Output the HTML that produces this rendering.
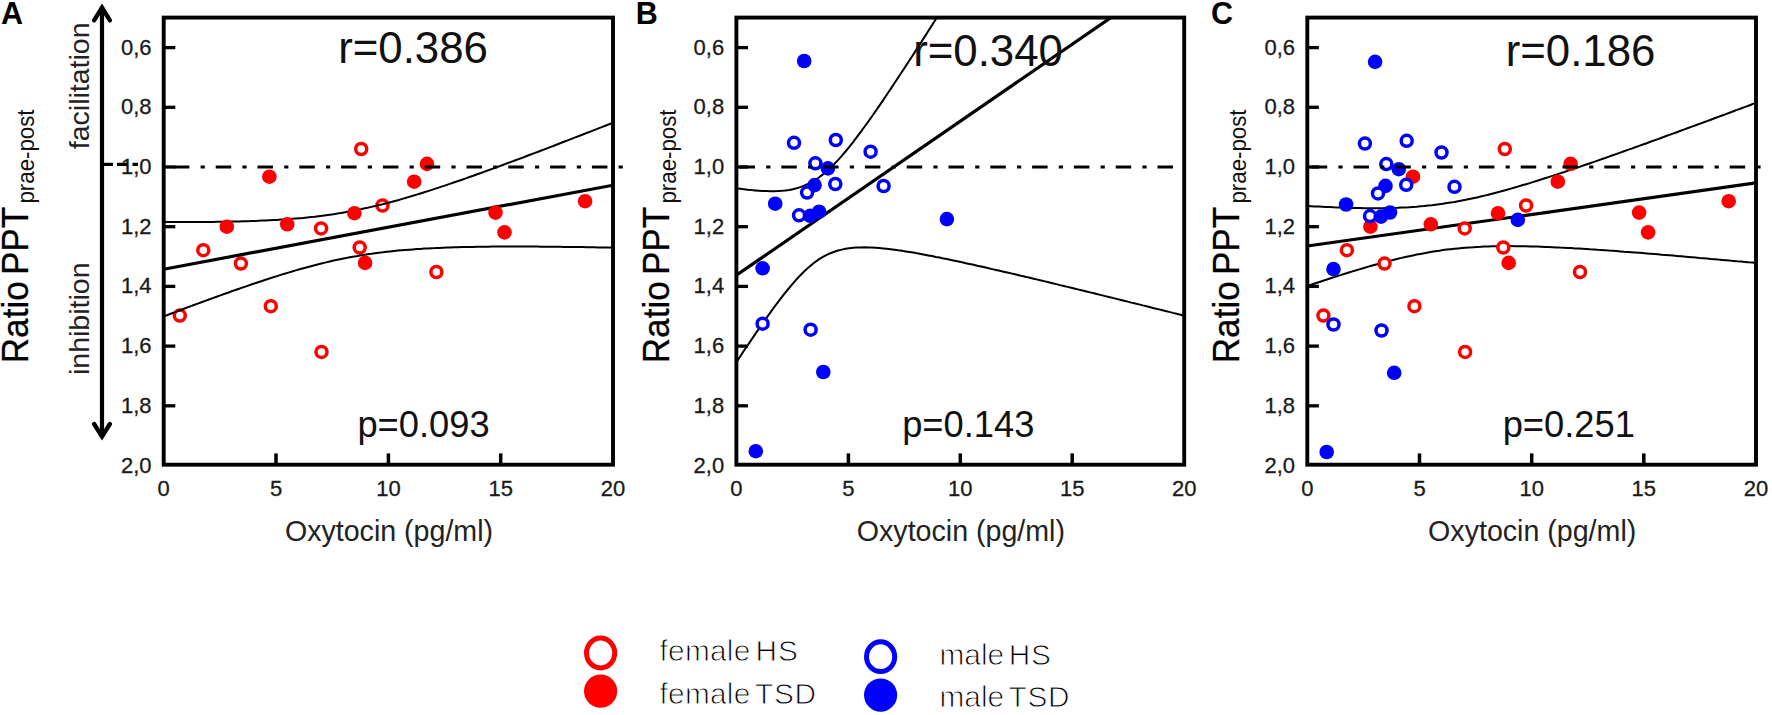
<!DOCTYPE html>
<html><head><meta charset="utf-8"><title>Figure</title>
<style>
html,body{margin:0;padding:0;background:#fff;}
svg{display:block;}
text{font-family:"Liberation Sans",Arial,sans-serif;fill:#1a1a1a;}
.tk{font-size:22px;fill:#1a1a1a;stroke:#1a1a1a;stroke-width:0.3px;}
.xl{font-size:28.6px;fill:#222;}
.yl{font-size:37px;fill:#000;stroke:#000;stroke-width:0.3px;}
.ys{font-size:24.3px;fill:#111;}
.pl{font-size:30.5px;font-weight:bold;fill:#000;}
.rt{font-size:43.8px;fill:#111;}
.pt{font-size:36.3px;fill:#111;}
.fi{font-size:28.5px;fill:#222;}
.lg{font-size:29.8px;fill:#000;stroke:#fff;stroke-width:0.9px;white-space:pre;}
</style></head><body>
<svg width="1772" height="715" viewBox="0 0 1772 715">
<rect width="1772" height="715" fill="#fff"/>
<clipPath id="clip0"><rect x="163.7" y="17.6" width="449.3" height="447.1"/></clipPath>
<g>
<circle cx="361.2" cy="149.0" r="5.5" fill="#fff" stroke="#ff0000" stroke-width="3.5"/>
<circle cx="321.1" cy="228.4" r="5.5" fill="#fff" stroke="#ff0000" stroke-width="3.5"/>
<circle cx="382.5" cy="205.5" r="5.5" fill="#fff" stroke="#ff0000" stroke-width="3.5"/>
<circle cx="203.3" cy="250.2" r="5.5" fill="#fff" stroke="#ff0000" stroke-width="3.5"/>
<circle cx="240.9" cy="263.6" r="5.5" fill="#fff" stroke="#ff0000" stroke-width="3.5"/>
<circle cx="359.7" cy="247.5" r="5.5" fill="#fff" stroke="#ff0000" stroke-width="3.5"/>
<circle cx="270.8" cy="306.2" r="5.5" fill="#fff" stroke="#ff0000" stroke-width="3.5"/>
<circle cx="179.8" cy="315.6" r="5.5" fill="#fff" stroke="#ff0000" stroke-width="3.5"/>
<circle cx="321.5" cy="351.9" r="5.5" fill="#fff" stroke="#ff0000" stroke-width="3.5"/>
<circle cx="436.4" cy="272.0" r="5.5" fill="#fff" stroke="#ff0000" stroke-width="3.5"/>
</g>
<g clip-path="url(#clip0)" fill="none" stroke="#000">
<path d="M163.7,221.9 L167.5,221.9 L171.3,222.0 L175.0,222.0 L178.8,222.0 L182.6,222.0 L186.4,222.0 L190.1,222.0 L193.9,222.0 L197.7,222.0 L201.5,222.0 L205.2,221.9 L209.0,221.9 L212.8,221.9 L216.6,221.8 L220.3,221.8 L224.1,221.7 L227.9,221.7 L231.7,221.6 L235.4,221.5 L239.2,221.4 L243.0,221.3 L246.8,221.2 L250.5,221.1 L254.3,220.9 L258.1,220.8 L261.9,220.6 L265.6,220.5 L269.4,220.3 L273.2,220.1 L277.0,219.9 L280.7,219.6 L284.5,219.4 L288.3,219.1 L292.1,218.8 L295.8,218.5 L299.6,218.2 L303.4,217.9 L307.2,217.5 L310.9,217.1 L314.7,216.7 L318.5,216.2 L322.3,215.7 L326.1,215.2 L329.8,214.7 L333.6,214.2 L337.4,213.6 L341.2,212.9 L344.9,212.3 L348.7,211.6 L352.5,210.9 L356.3,210.2 L360.0,209.4 L363.8,208.6 L367.6,207.8 L371.4,206.9 L375.1,206.0 L378.9,205.1 L382.7,204.2 L386.5,203.2 L390.2,202.2 L394.0,201.2 L397.8,200.2 L401.6,199.1 L405.3,198.0 L409.1,196.9 L412.9,195.8 L416.7,194.6 L420.4,193.5 L424.2,192.3 L428.0,191.1 L431.8,189.9 L435.5,188.6 L439.3,187.4 L443.1,186.1 L446.9,184.9 L450.6,183.6 L454.4,182.3 L458.2,181.0 L462.0,179.7 L465.8,178.4 L469.5,177.0 L473.3,175.7 L477.1,174.3 L480.9,173.0 L484.6,171.6 L488.4,170.3 L492.2,168.9 L496.0,167.5 L499.7,166.1 L503.5,164.7 L507.3,163.3 L511.1,161.9 L514.8,160.5 L518.6,159.1 L522.4,157.7 L526.2,156.2 L529.9,154.8 L533.7,153.4 L537.5,152.0 L541.3,150.5 L545.0,149.1 L548.8,147.6 L552.6,146.2 L556.4,144.7 L560.1,143.3 L563.9,141.8 L567.7,140.4 L571.5,138.9 L575.2,137.4 L579.0,136.0 L582.8,134.5 L586.6,133.0 L590.3,131.6 L594.1,130.1 L597.9,128.6 L601.7,127.1 L605.4,125.7 L609.2,124.2 L613.0,122.7" stroke-width="2"/>
<path d="M163.7,316.4 L167.5,315.0 L171.3,313.5 L175.0,312.1 L178.8,310.7 L182.6,309.3 L186.4,307.8 L190.1,306.4 L193.9,305.0 L197.7,303.6 L201.5,302.2 L205.2,300.9 L209.0,299.5 L212.8,298.1 L216.6,296.7 L220.3,295.4 L224.1,294.0 L227.9,292.7 L231.7,291.3 L235.4,290.0 L239.2,288.7 L243.0,287.4 L246.8,286.1 L250.5,284.8 L254.3,283.5 L258.1,282.2 L261.9,281.0 L265.6,279.7 L269.4,278.5 L273.2,277.3 L277.0,276.1 L280.7,274.9 L284.5,273.8 L288.3,272.6 L292.1,271.5 L295.8,270.4 L299.6,269.3 L303.4,268.2 L307.2,267.2 L310.9,266.2 L314.7,265.2 L318.5,264.2 L322.3,263.3 L326.1,262.4 L329.8,261.5 L333.6,260.6 L337.4,259.8 L341.2,259.0 L344.9,258.3 L348.7,257.5 L352.5,256.8 L356.3,256.2 L360.0,255.5 L363.8,254.9 L367.6,254.3 L371.4,253.8 L375.1,253.2 L378.9,252.7 L382.7,252.3 L386.5,251.8 L390.2,251.4 L394.0,251.0 L397.8,250.6 L401.6,250.3 L405.3,250.0 L409.1,249.7 L412.9,249.4 L416.7,249.1 L420.4,248.9 L424.2,248.6 L428.0,248.4 L431.8,248.2 L435.5,248.1 L439.3,247.9 L443.1,247.7 L446.9,247.6 L450.6,247.5 L454.4,247.3 L458.2,247.2 L462.0,247.1 L465.8,247.0 L469.5,247.0 L473.3,246.9 L477.1,246.8 L480.9,246.8 L484.6,246.7 L488.4,246.7 L492.2,246.6 L496.0,246.6 L499.7,246.6 L503.5,246.6 L507.3,246.6 L511.1,246.6 L514.8,246.6 L518.6,246.6 L522.4,246.6 L526.2,246.6 L529.9,246.6 L533.7,246.6 L537.5,246.6 L541.3,246.7 L545.0,246.7 L548.8,246.7 L552.6,246.8 L556.4,246.8 L560.1,246.8 L563.9,246.9 L567.7,246.9 L571.5,247.0 L575.2,247.0 L579.0,247.1 L582.8,247.1 L586.6,247.2 L590.3,247.3 L594.1,247.3 L597.9,247.4 L601.7,247.5 L605.4,247.5 L609.2,247.6 L613.0,247.7" stroke-width="2"/>
<path d="M163.7,269.2 L613.0,185.2" stroke-width="3.2"/>
</g>
<g>
<circle cx="269.4" cy="176.7" r="7.3" fill="#ff0000"/>
<circle cx="226.8" cy="226.7" r="7.3" fill="#ff0000"/>
<circle cx="287.2" cy="224.3" r="7.3" fill="#ff0000"/>
<circle cx="354.4" cy="213.2" r="7.3" fill="#ff0000"/>
<circle cx="365.1" cy="262.9" r="7.3" fill="#ff0000"/>
<circle cx="427.0" cy="163.9" r="7.3" fill="#ff0000"/>
<circle cx="414.2" cy="181.7" r="7.3" fill="#ff0000"/>
<circle cx="495.5" cy="212.6" r="7.3" fill="#ff0000"/>
<circle cx="504.5" cy="232.4" r="7.3" fill="#ff0000"/>
<circle cx="585.1" cy="201.2" r="7.3" fill="#ff0000"/>
</g>
<rect x="163.7" y="17.6" width="449.3" height="447.1" fill="none" stroke="#000" stroke-width="3.9"/>
<path d="M163.7,47.6 h11.6" stroke="#000" stroke-width="3.3"/>
<text class="tk" x="151.5" y="54.6" text-anchor="end">0,6</text>
<path d="M163.7,107.3 h11.6" stroke="#000" stroke-width="3.3"/>
<text class="tk" x="151.5" y="114.3" text-anchor="end">0,8</text>
<path d="M163.7,167.0 h11.6" stroke="#000" stroke-width="3.3"/>
<text class="tk" x="151.5" y="174.0" text-anchor="end">1,0</text>
<path d="M163.7,226.7 h11.6" stroke="#000" stroke-width="3.3"/>
<text class="tk" x="151.5" y="233.7" text-anchor="end">1,2</text>
<path d="M163.7,286.4 h11.6" stroke="#000" stroke-width="3.3"/>
<text class="tk" x="151.5" y="293.4" text-anchor="end">1,4</text>
<path d="M163.7,346.1 h11.6" stroke="#000" stroke-width="3.3"/>
<text class="tk" x="151.5" y="353.1" text-anchor="end">1,6</text>
<path d="M163.7,405.8 h11.6" stroke="#000" stroke-width="3.3"/>
<text class="tk" x="151.5" y="412.8" text-anchor="end">1,8</text>
<text class="tk" x="151.5" y="472.5" text-anchor="end">2,0</text>
<text class="tk" x="163.7" y="495.6" text-anchor="middle">0</text>
<path d="M276.0,464.7 v-11.3" stroke="#000" stroke-width="3.5"/>
<text class="tk" x="276.0" y="495.6" text-anchor="middle">5</text>
<path d="M388.4,464.7 v-11.3" stroke="#000" stroke-width="3.5"/>
<text class="tk" x="388.4" y="495.6" text-anchor="middle">10</text>
<path d="M500.7,464.7 v-11.3" stroke="#000" stroke-width="3.5"/>
<text class="tk" x="500.7" y="495.6" text-anchor="middle">15</text>
<text class="tk" x="613.0" y="495.6" text-anchor="middle">20</text>
<path d="M173.9,167 H624.0" stroke="#000" stroke-width="3.2" stroke-dasharray="15.5 11.2 4.2 10.9"/>
<text class="xl" x="389.0" y="540.7" text-anchor="middle">Oxytocin (pg/ml)</text>
<text class="yl" transform="translate(27.5,363.3) rotate(-90)" textLength="82.1" lengthAdjust="spacingAndGlyphs">Ratio</text>
<text class="yl" transform="translate(27.5,275.1) rotate(-90)" textLength="68.4" lengthAdjust="spacingAndGlyphs">PPT</text>
<text class="ys" transform="translate(34.2,203.5) rotate(-90)" textLength="94" lengthAdjust="spacingAndGlyphs">prae-post</text>
<clipPath id="clip1"><rect x="736.4" y="17.6" width="447.8" height="447.1"/></clipPath>
<g clip-path="url(#clip1)" fill="none" stroke="#000">
<path d="M736.4,188.2 L740.2,188.7 L743.9,189.2 L747.7,189.7 L751.5,190.1 L755.2,190.4 L759.0,190.7 L762.7,191.0 L766.5,191.1 L770.3,191.2 L774.0,191.2 L777.8,191.1 L781.6,190.8 L785.3,190.4 L789.1,189.9 L792.8,189.2 L796.6,188.2 L800.4,187.1 L804.1,185.7 L807.9,184.0 L811.7,182.1 L815.4,179.8 L819.2,177.3 L822.9,174.4 L826.7,171.2 L830.5,167.8 L834.2,164.1 L838.0,160.1 L841.8,155.9 L845.5,151.5 L849.3,146.9 L853.1,142.1 L856.8,137.2 L860.6,132.2 L864.3,127.0 L868.1,121.8 L871.9,116.5 L875.6,111.1 L879.4,105.6 L883.2,100.1 L886.9,94.5 L890.7,88.9 L894.4,83.2 L898.2,77.5 L902.0,71.8 L905.7,66.1 L909.5,60.3 L913.3,54.5 L917.0,48.6 L920.8,42.8 L924.6,36.9 L928.3,31.0 L932.1,25.1 L935.8,19.2 L939.6,13.3 L943.4,7.3 L947.1,1.4 L950.9,-4.6 L954.7,-10.6 L958.4,-16.5 L962.2,-22.5 L965.9,-28.5 L969.7,-34.5 L973.5,-40.5 L977.2,-46.5 L981.0,-52.6 L984.8,-58.6 L988.5,-64.6 L992.3,-70.7 L996.0,-76.7 L999.8,-82.7 L1003.6,-88.8 L1007.3,-94.8 L1011.1,-100.9 L1014.9,-106.9 L1018.6,-113.0 L1022.4,-119.1 L1026.2,-125.1 L1029.9,-131.2 L1033.7,-137.3 L1037.4,-143.3 L1041.2,-149.4 L1045.0,-155.5 L1048.7,-161.6 L1052.5,-167.6 L1056.3,-173.7 L1060.0,-179.8 L1063.8,-185.9 L1067.5,-192.0 L1071.3,-198.1 L1075.1,-204.2 L1078.8,-210.3 L1082.6,-216.4 L1086.4,-222.4 L1090.1,-228.5 L1093.9,-234.6 L1097.7,-240.7 L1101.4,-246.8 L1105.2,-252.9 L1108.9,-259.0 L1112.7,-265.1 L1116.5,-271.2 L1120.2,-277.3 L1124.0,-283.5 L1127.8,-289.6 L1131.5,-295.7 L1135.3,-301.8 L1139.0,-307.9 L1142.8,-314.0 L1146.6,-320.1 L1150.3,-326.2 L1154.1,-332.3 L1157.9,-338.4 L1161.6,-344.5 L1165.4,-350.7 L1169.1,-356.8 L1172.9,-362.9 L1176.7,-369.0 L1180.4,-375.1 L1184.2,-381.2" stroke-width="2"/>
<path d="M736.4,362.2 L740.2,356.5 L743.9,350.8 L747.7,345.2 L751.5,339.6 L755.2,334.1 L759.0,328.6 L762.7,323.2 L766.5,317.8 L770.3,312.6 L774.0,307.4 L777.8,302.4 L781.6,297.4 L785.3,292.6 L789.1,288.0 L792.8,283.6 L796.6,279.3 L800.4,275.3 L804.1,271.5 L807.9,268.0 L811.7,264.8 L815.4,261.8 L819.2,259.2 L822.9,256.9 L826.7,254.9 L830.5,253.2 L834.2,251.7 L838.0,250.5 L841.8,249.6 L845.5,248.8 L849.3,248.2 L853.1,247.8 L856.8,247.5 L860.6,247.4 L864.3,247.3 L868.1,247.4 L871.9,247.5 L875.6,247.8 L879.4,248.1 L883.2,248.4 L886.9,248.8 L890.7,249.2 L894.4,249.7 L898.2,250.3 L902.0,250.8 L905.7,251.4 L909.5,252.0 L913.3,252.6 L917.0,253.3 L920.8,254.0 L924.6,254.7 L928.3,255.4 L932.1,256.1 L935.8,256.9 L939.6,257.6 L943.4,258.4 L947.1,259.1 L950.9,259.9 L954.7,260.7 L958.4,261.5 L962.2,262.3 L965.9,263.2 L969.7,264.0 L973.5,264.8 L977.2,265.7 L981.0,266.5 L984.8,267.3 L988.5,268.2 L992.3,269.1 L996.0,269.9 L999.8,270.8 L1003.6,271.7 L1007.3,272.5 L1011.1,273.4 L1014.9,274.3 L1018.6,275.2 L1022.4,276.1 L1026.2,276.9 L1029.9,277.8 L1033.7,278.7 L1037.4,279.6 L1041.2,280.5 L1045.0,281.4 L1048.7,282.3 L1052.5,283.2 L1056.3,284.1 L1060.0,285.1 L1063.8,286.0 L1067.5,286.9 L1071.3,287.8 L1075.1,288.7 L1078.8,289.6 L1082.6,290.5 L1086.4,291.5 L1090.1,292.4 L1093.9,293.3 L1097.7,294.2 L1101.4,295.1 L1105.2,296.1 L1108.9,297.0 L1112.7,297.9 L1116.5,298.9 L1120.2,299.8 L1124.0,300.7 L1127.8,301.6 L1131.5,302.6 L1135.3,303.5 L1139.0,304.4 L1142.8,305.4 L1146.6,306.3 L1150.3,307.2 L1154.1,308.2 L1157.9,309.1 L1161.6,310.0 L1165.4,311.0 L1169.1,311.9 L1172.9,312.9 L1176.7,313.8 L1180.4,314.7 L1184.2,315.7" stroke-width="2"/>
<path d="M736.4,275.2 L1184.2,-32.8" stroke-width="3.2"/>
</g>
<g>
<circle cx="794.0" cy="142.8" r="5.5" fill="#fff" stroke="#0000ff" stroke-width="3.5"/>
<circle cx="835.8" cy="140.0" r="5.5" fill="#fff" stroke="#0000ff" stroke-width="3.5"/>
<circle cx="870.6" cy="151.7" r="5.5" fill="#fff" stroke="#0000ff" stroke-width="3.5"/>
<circle cx="815.4" cy="163.3" r="5.5" fill="#fff" stroke="#0000ff" stroke-width="3.5"/>
<circle cx="835.3" cy="184.0" r="5.5" fill="#fff" stroke="#0000ff" stroke-width="3.5"/>
<circle cx="883.6" cy="186.0" r="5.5" fill="#fff" stroke="#0000ff" stroke-width="3.5"/>
<circle cx="807.1" cy="192.6" r="5.5" fill="#fff" stroke="#0000ff" stroke-width="3.5"/>
<circle cx="799.1" cy="215.3" r="5.5" fill="#fff" stroke="#0000ff" stroke-width="3.5"/>
<circle cx="762.6" cy="323.7" r="5.5" fill="#fff" stroke="#0000ff" stroke-width="3.5"/>
<circle cx="810.6" cy="329.7" r="5.5" fill="#fff" stroke="#0000ff" stroke-width="3.5"/>
</g>
<g>
<circle cx="804.2" cy="61.0" r="7.3" fill="#0000ff"/>
<circle cx="827.9" cy="168.4" r="7.3" fill="#0000ff"/>
<circle cx="814.6" cy="185.1" r="7.3" fill="#0000ff"/>
<circle cx="775.2" cy="203.7" r="7.3" fill="#0000ff"/>
<circle cx="810.2" cy="215.8" r="7.3" fill="#0000ff"/>
<circle cx="819.1" cy="211.7" r="7.3" fill="#0000ff"/>
<circle cx="946.9" cy="219.1" r="7.3" fill="#0000ff"/>
<circle cx="762.6" cy="268.3" r="7.3" fill="#0000ff"/>
<circle cx="823.3" cy="372.0" r="7.3" fill="#0000ff"/>
<circle cx="755.8" cy="451.2" r="7.3" fill="#0000ff"/>
</g>
<rect x="736.4" y="17.6" width="447.8" height="447.1" fill="none" stroke="#000" stroke-width="3.9"/>
<path d="M736.4,47.6 h11.6" stroke="#000" stroke-width="3.3"/>
<text class="tk" x="724.2" y="54.6" text-anchor="end">0,6</text>
<path d="M736.4,107.3 h11.6" stroke="#000" stroke-width="3.3"/>
<text class="tk" x="724.2" y="114.3" text-anchor="end">0,8</text>
<path d="M736.4,167.0 h11.6" stroke="#000" stroke-width="3.3"/>
<text class="tk" x="724.2" y="174.0" text-anchor="end">1,0</text>
<path d="M736.4,226.7 h11.6" stroke="#000" stroke-width="3.3"/>
<text class="tk" x="724.2" y="233.7" text-anchor="end">1,2</text>
<path d="M736.4,286.4 h11.6" stroke="#000" stroke-width="3.3"/>
<text class="tk" x="724.2" y="293.4" text-anchor="end">1,4</text>
<path d="M736.4,346.1 h11.6" stroke="#000" stroke-width="3.3"/>
<text class="tk" x="724.2" y="353.1" text-anchor="end">1,6</text>
<path d="M736.4,405.8 h11.6" stroke="#000" stroke-width="3.3"/>
<text class="tk" x="724.2" y="412.8" text-anchor="end">1,8</text>
<text class="tk" x="724.2" y="472.5" text-anchor="end">2,0</text>
<text class="tk" x="736.4" y="495.6" text-anchor="middle">0</text>
<path d="M848.4,464.7 v-11.3" stroke="#000" stroke-width="3.5"/>
<text class="tk" x="848.4" y="495.6" text-anchor="middle">5</text>
<path d="M960.3,464.7 v-11.3" stroke="#000" stroke-width="3.5"/>
<text class="tk" x="960.3" y="495.6" text-anchor="middle">10</text>
<path d="M1072.2,464.7 v-11.3" stroke="#000" stroke-width="3.5"/>
<text class="tk" x="1072.2" y="495.6" text-anchor="middle">15</text>
<text class="tk" x="1184.2" y="495.6" text-anchor="middle">20</text>
<path d="M739.5,167 H1175.0" stroke="#000" stroke-width="3.2" stroke-dasharray="15.5 11.2 4.2 10.9"/>
<text class="xl" x="960.9" y="540.7" text-anchor="middle">Oxytocin (pg/ml)</text>
<text class="yl" transform="translate(668.9,363.3) rotate(-90)" textLength="82.1" lengthAdjust="spacingAndGlyphs">Ratio</text>
<text class="yl" transform="translate(668.9,275.1) rotate(-90)" textLength="68.4" lengthAdjust="spacingAndGlyphs">PPT</text>
<text class="ys" transform="translate(675.6,203.5) rotate(-90)" textLength="94" lengthAdjust="spacingAndGlyphs">prae-post</text>
<clipPath id="clip2"><rect x="1307.3" y="17.6" width="448.7" height="447.1"/></clipPath>
<g clip-path="url(#clip2)" fill="none" stroke="#000">
<path d="M1307.3,206.0 L1311.1,206.2 L1314.8,206.4 L1318.6,206.6 L1322.4,206.8 L1326.2,207.0 L1329.9,207.1 L1333.7,207.3 L1337.5,207.4 L1341.2,207.6 L1345.0,207.7 L1348.8,207.8 L1352.5,207.9 L1356.3,208.0 L1360.1,208.1 L1363.9,208.2 L1367.6,208.2 L1371.4,208.2 L1375.2,208.2 L1378.9,208.2 L1382.7,208.2 L1386.5,208.1 L1390.3,208.0 L1394.0,207.9 L1397.8,207.8 L1401.6,207.6 L1405.3,207.4 L1409.1,207.2 L1412.9,206.9 L1416.6,206.7 L1420.4,206.3 L1424.2,206.0 L1428.0,205.6 L1431.7,205.2 L1435.5,204.7 L1439.3,204.2 L1443.0,203.7 L1446.8,203.1 L1450.6,202.5 L1454.4,201.9 L1458.1,201.2 L1461.9,200.5 L1465.7,199.8 L1469.4,199.0 L1473.2,198.2 L1477.0,197.4 L1480.7,196.5 L1484.5,195.6 L1488.3,194.7 L1492.1,193.7 L1495.8,192.7 L1499.6,191.8 L1503.4,190.7 L1507.1,189.7 L1510.9,188.6 L1514.7,187.5 L1518.5,186.4 L1522.2,185.3 L1526.0,184.2 L1529.8,183.1 L1533.5,181.9 L1537.3,180.7 L1541.1,179.5 L1544.8,178.3 L1548.6,177.1 L1552.4,175.9 L1556.2,174.7 L1559.9,173.4 L1563.7,172.2 L1567.5,170.9 L1571.2,169.6 L1575.0,168.4 L1578.8,167.1 L1582.6,165.8 L1586.3,164.5 L1590.1,163.2 L1593.9,161.9 L1597.6,160.6 L1601.4,159.3 L1605.2,158.0 L1608.9,156.6 L1612.7,155.3 L1616.5,154.0 L1620.3,152.6 L1624.0,151.3 L1627.8,149.9 L1631.6,148.6 L1635.3,147.2 L1639.1,145.9 L1642.9,144.5 L1646.7,143.2 L1650.4,141.8 L1654.2,140.4 L1658.0,139.1 L1661.7,137.7 L1665.5,136.3 L1669.3,134.9 L1673.0,133.6 L1676.8,132.2 L1680.6,130.8 L1684.4,129.4 L1688.1,128.0 L1691.9,126.6 L1695.7,125.3 L1699.4,123.9 L1703.2,122.5 L1707.0,121.1 L1710.8,119.7 L1714.5,118.3 L1718.3,116.9 L1722.1,115.5 L1725.8,114.1 L1729.6,112.7 L1733.4,111.3 L1737.1,109.9 L1740.9,108.5 L1744.7,107.1 L1748.5,105.7 L1752.2,104.3 L1756.0,102.9" stroke-width="2"/>
<path d="M1307.3,286.0 L1311.1,284.8 L1314.8,283.5 L1318.6,282.2 L1322.4,281.0 L1326.2,279.7 L1329.9,278.5 L1333.7,277.3 L1337.5,276.1 L1341.2,274.9 L1345.0,273.7 L1348.8,272.5 L1352.5,271.4 L1356.3,270.2 L1360.1,269.1 L1363.9,268.0 L1367.6,266.9 L1371.4,265.8 L1375.2,264.7 L1378.9,263.7 L1382.7,262.6 L1386.5,261.6 L1390.3,260.7 L1394.0,259.7 L1397.8,258.8 L1401.6,257.9 L1405.3,257.0 L1409.1,256.2 L1412.9,255.4 L1416.6,254.6 L1420.4,253.9 L1424.2,253.2 L1428.0,252.5 L1431.7,251.8 L1435.5,251.2 L1439.3,250.7 L1443.0,250.1 L1446.8,249.6 L1450.6,249.2 L1454.4,248.8 L1458.1,248.4 L1461.9,248.0 L1465.7,247.7 L1469.4,247.4 L1473.2,247.2 L1477.0,246.9 L1480.7,246.8 L1484.5,246.6 L1488.3,246.4 L1492.1,246.3 L1495.8,246.3 L1499.6,246.2 L1503.4,246.1 L1507.1,246.1 L1510.9,246.1 L1514.7,246.2 L1518.5,246.2 L1522.2,246.2 L1526.0,246.3 L1529.8,246.4 L1533.5,246.5 L1537.3,246.6 L1541.1,246.7 L1544.8,246.9 L1548.6,247.0 L1552.4,247.2 L1556.2,247.4 L1559.9,247.6 L1563.7,247.7 L1567.5,247.9 L1571.2,248.1 L1575.0,248.4 L1578.8,248.6 L1582.6,248.8 L1586.3,249.0 L1590.1,249.3 L1593.9,249.5 L1597.6,249.8 L1601.4,250.0 L1605.2,250.3 L1608.9,250.6 L1612.7,250.8 L1616.5,251.1 L1620.3,251.4 L1624.0,251.7 L1627.8,251.9 L1631.6,252.2 L1635.3,252.5 L1639.1,252.8 L1642.9,253.1 L1646.7,253.4 L1650.4,253.7 L1654.2,254.0 L1658.0,254.3 L1661.7,254.7 L1665.5,255.0 L1669.3,255.3 L1673.0,255.6 L1676.8,255.9 L1680.6,256.2 L1684.4,256.6 L1688.1,256.9 L1691.9,257.2 L1695.7,257.5 L1699.4,257.9 L1703.2,258.2 L1707.0,258.5 L1710.8,258.9 L1714.5,259.2 L1718.3,259.6 L1722.1,259.9 L1725.8,260.2 L1729.6,260.6 L1733.4,260.9 L1737.1,261.3 L1740.9,261.6 L1744.7,261.9 L1748.5,262.3 L1752.2,262.6 L1756.0,263.0" stroke-width="2"/>
<path d="M1307.3,246.0 L1756.0,182.9" stroke-width="3.2"/>
</g>
<g>
<circle cx="1504.8" cy="149.0" r="5.5" fill="#fff" stroke="#ff0000" stroke-width="3.5"/>
<circle cx="1413.0" cy="176.7" r="7.3" fill="#ff0000"/>
<circle cx="1370.4" cy="226.7" r="7.3" fill="#ff0000"/>
<circle cx="1430.8" cy="224.3" r="7.3" fill="#ff0000"/>
<circle cx="1464.7" cy="228.4" r="5.5" fill="#fff" stroke="#ff0000" stroke-width="3.5"/>
<circle cx="1498.0" cy="213.2" r="7.3" fill="#ff0000"/>
<circle cx="1526.1" cy="205.5" r="5.5" fill="#fff" stroke="#ff0000" stroke-width="3.5"/>
<circle cx="1346.9" cy="250.2" r="5.5" fill="#fff" stroke="#ff0000" stroke-width="3.5"/>
<circle cx="1384.5" cy="263.6" r="5.5" fill="#fff" stroke="#ff0000" stroke-width="3.5"/>
<circle cx="1503.3" cy="247.5" r="5.5" fill="#fff" stroke="#ff0000" stroke-width="3.5"/>
<circle cx="1508.7" cy="262.9" r="7.3" fill="#ff0000"/>
<circle cx="1414.4" cy="306.2" r="5.5" fill="#fff" stroke="#ff0000" stroke-width="3.5"/>
<circle cx="1323.4" cy="315.6" r="5.5" fill="#fff" stroke="#ff0000" stroke-width="3.5"/>
<circle cx="1465.1" cy="351.9" r="5.5" fill="#fff" stroke="#ff0000" stroke-width="3.5"/>
<circle cx="1570.6" cy="163.9" r="7.3" fill="#ff0000"/>
<circle cx="1557.8" cy="181.7" r="7.3" fill="#ff0000"/>
<circle cx="1639.1" cy="212.6" r="7.3" fill="#ff0000"/>
<circle cx="1648.1" cy="232.4" r="7.3" fill="#ff0000"/>
<circle cx="1728.7" cy="201.2" r="7.3" fill="#ff0000"/>
<circle cx="1580.0" cy="272.0" r="5.5" fill="#fff" stroke="#ff0000" stroke-width="3.5"/>
<circle cx="1375.1" cy="61.8" r="7.3" fill="#0000ff"/>
<circle cx="1364.9" cy="143.6" r="5.5" fill="#fff" stroke="#0000ff" stroke-width="3.5"/>
<circle cx="1406.7" cy="140.8" r="5.5" fill="#fff" stroke="#0000ff" stroke-width="3.5"/>
<circle cx="1441.5" cy="152.5" r="5.5" fill="#fff" stroke="#0000ff" stroke-width="3.5"/>
<circle cx="1386.3" cy="164.1" r="5.5" fill="#fff" stroke="#0000ff" stroke-width="3.5"/>
<circle cx="1398.8" cy="169.2" r="7.3" fill="#0000ff"/>
<circle cx="1385.5" cy="185.9" r="7.3" fill="#0000ff"/>
<circle cx="1406.2" cy="184.8" r="5.5" fill="#fff" stroke="#0000ff" stroke-width="3.5"/>
<circle cx="1454.5" cy="186.8" r="5.5" fill="#fff" stroke="#0000ff" stroke-width="3.5"/>
<circle cx="1378.0" cy="193.4" r="5.5" fill="#fff" stroke="#0000ff" stroke-width="3.5"/>
<circle cx="1346.1" cy="204.5" r="7.3" fill="#0000ff"/>
<circle cx="1370.0" cy="216.1" r="5.5" fill="#fff" stroke="#0000ff" stroke-width="3.5"/>
<circle cx="1381.1" cy="216.6" r="7.3" fill="#0000ff"/>
<circle cx="1390.0" cy="212.5" r="7.3" fill="#0000ff"/>
<circle cx="1517.8" cy="219.9" r="7.3" fill="#0000ff"/>
<circle cx="1333.5" cy="269.1" r="7.3" fill="#0000ff"/>
<circle cx="1333.5" cy="324.5" r="5.5" fill="#fff" stroke="#0000ff" stroke-width="3.5"/>
<circle cx="1381.5" cy="330.5" r="5.5" fill="#fff" stroke="#0000ff" stroke-width="3.5"/>
<circle cx="1394.2" cy="372.8" r="7.3" fill="#0000ff"/>
<circle cx="1326.7" cy="452.0" r="7.3" fill="#0000ff"/>
</g>
<rect x="1307.3" y="17.6" width="448.7" height="447.1" fill="none" stroke="#000" stroke-width="3.9"/>
<path d="M1307.3,47.6 h11.6" stroke="#000" stroke-width="3.3"/>
<text class="tk" x="1295.1" y="54.6" text-anchor="end">0,6</text>
<path d="M1307.3,107.3 h11.6" stroke="#000" stroke-width="3.3"/>
<text class="tk" x="1295.1" y="114.3" text-anchor="end">0,8</text>
<path d="M1307.3,167.0 h11.6" stroke="#000" stroke-width="3.3"/>
<text class="tk" x="1295.1" y="174.0" text-anchor="end">1,0</text>
<path d="M1307.3,226.7 h11.6" stroke="#000" stroke-width="3.3"/>
<text class="tk" x="1295.1" y="233.7" text-anchor="end">1,2</text>
<path d="M1307.3,286.4 h11.6" stroke="#000" stroke-width="3.3"/>
<text class="tk" x="1295.1" y="293.4" text-anchor="end">1,4</text>
<path d="M1307.3,346.1 h11.6" stroke="#000" stroke-width="3.3"/>
<text class="tk" x="1295.1" y="353.1" text-anchor="end">1,6</text>
<path d="M1307.3,405.8 h11.6" stroke="#000" stroke-width="3.3"/>
<text class="tk" x="1295.1" y="412.8" text-anchor="end">1,8</text>
<text class="tk" x="1295.1" y="472.5" text-anchor="end">2,0</text>
<text class="tk" x="1307.3" y="495.6" text-anchor="middle">0</text>
<path d="M1419.5,464.7 v-11.3" stroke="#000" stroke-width="3.5"/>
<text class="tk" x="1419.5" y="495.6" text-anchor="middle">5</text>
<path d="M1531.7,464.7 v-11.3" stroke="#000" stroke-width="3.5"/>
<text class="tk" x="1531.7" y="495.6" text-anchor="middle">10</text>
<path d="M1643.8,464.7 v-11.3" stroke="#000" stroke-width="3.5"/>
<text class="tk" x="1643.8" y="495.6" text-anchor="middle">15</text>
<text class="tk" x="1756.0" y="495.6" text-anchor="middle">20</text>
<path d="M1311.7,167 H1762.0" stroke="#000" stroke-width="3.2" stroke-dasharray="15.5 11.2 4.2 10.9"/>
<text class="xl" x="1532.2" y="540.7" text-anchor="middle">Oxytocin (pg/ml)</text>
<text class="yl" transform="translate(1239.1,363.3) rotate(-90)" textLength="82.1" lengthAdjust="spacingAndGlyphs">Ratio</text>
<text class="yl" transform="translate(1239.1,275.1) rotate(-90)" textLength="68.4" lengthAdjust="spacingAndGlyphs">PPT</text>
<text class="ys" transform="translate(1245.8,203.5) rotate(-90)" textLength="94" lengthAdjust="spacingAndGlyphs">prae-post</text>
<text class="pl" x="0.9" y="23.9">A</text>
<text class="pl" x="635.8" y="23.9">B</text>
<text class="pl" x="1211" y="23.9">C</text>
<text class="rt" x="338.2" y="62.5">r=0.386</text>
<text class="pt" x="357.4" y="437">p=0.093</text>
<text class="rt" x="913.2" y="66.2">r=0.340</text>
<text class="pt" x="902.2" y="437">p=0.143</text>
<text class="rt" x="1505.7" y="66.2">r=0.186</text>
<text class="pt" x="1502.7" y="437">p=0.251</text>
<path d="M102,6.5 V437.5" stroke="#000" stroke-width="4.2" fill="none"/>
<path d="M94.1,20.4 L102,7.7 L109.9,20.4" stroke="#000" stroke-width="4.4" fill="none" stroke-linecap="round" stroke-linejoin="miter"/>
<path d="M94.1,424 L102,436.5 L109.9,424" stroke="#000" stroke-width="4.4" fill="none" stroke-linecap="round" stroke-linejoin="miter"/>
<path d="M102,164.3 H113 M117,164.3 H128 M132.5,164.3 H138" stroke="#000" stroke-width="3.2" fill="none"/>
<text class="fi" transform="translate(89.3,149.2) rotate(-90)">facilitation</text>
<text class="fi" transform="translate(89.3,375) rotate(-90)">inhibition</text>
<ellipse cx="600.6" cy="653" rx="14.1" ry="14.9" fill="#fff" stroke="#ff0000" stroke-width="5"/>
<ellipse cx="600.6" cy="691.2" rx="16.6" ry="16.6" fill="#ff0000"/>
<ellipse cx="880.6" cy="656.7" rx="14.1" ry="14.9" fill="#fff" stroke="#0000ff" stroke-width="5"/>
<ellipse cx="880.6" cy="695.1" rx="16.6" ry="16.6" fill="#0000ff"/>
<text class="lg" y="661.0"><tspan x="659.5" textLength="90.8">female</tspan><tspan x="746.5" letter-spacing="0.8"> HS</tspan></text>
<text class="lg" y="703.6"><tspan x="659.5" textLength="90.8">female</tspan><tspan x="746.4" letter-spacing="0.8"> TSD</tspan></text>
<text class="lg" y="664.6"><tspan x="939.5" textLength="64.6">male</tspan><tspan x="999.6" letter-spacing="0.8"> HS</tspan></text>
<text class="lg" y="707.2"><tspan x="939.5" textLength="64.6">male</tspan><tspan x="999.9" letter-spacing="0.8"> TSD</tspan></text>
</svg>
</body></html>
